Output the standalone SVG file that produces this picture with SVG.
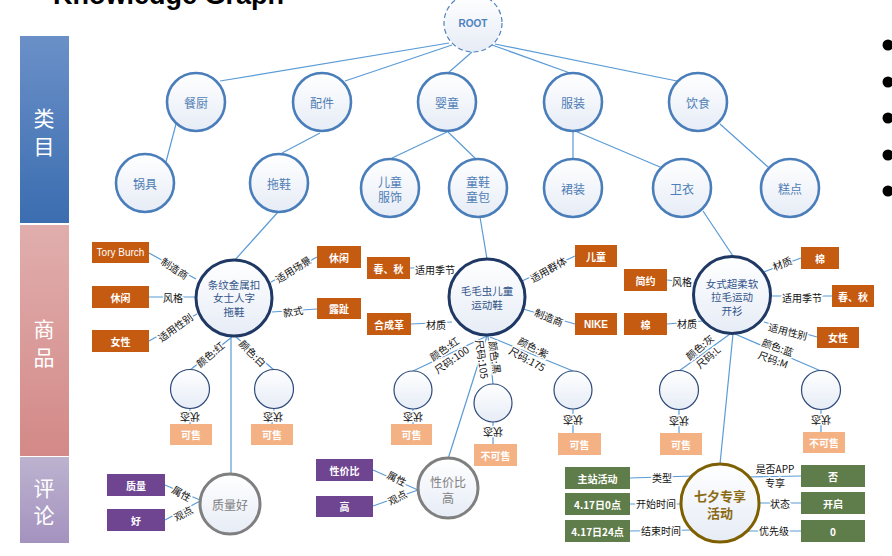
<svg xmlns="http://www.w3.org/2000/svg" width="892" height="556" viewBox="0 0 892 556">
<defs>
<linearGradient id="gN" x1="0" y1="0" x2="0" y2="1"><stop offset="0" stop-color="#ffffff"/><stop offset="1" stop-color="#e6ecf6"/></linearGradient>
<linearGradient id="gB" x1="0" y1="0" x2="0" y2="1"><stop offset="0" stop-color="#6b90c8"/><stop offset="1" stop-color="#3b6db0"/></linearGradient>
<linearGradient id="gP" x1="0" y1="0" x2="0" y2="1"><stop offset="0" stop-color="#e0aead"/><stop offset="1" stop-color="#d38987"/></linearGradient>
<linearGradient id="gV" x1="0" y1="0" x2="0" y2="1"><stop offset="0" stop-color="#bcb3cf"/><stop offset="1" stop-color="#a492bf"/></linearGradient>
</defs>
<style>
text{font-family:"Noto Sans CJK SC","Liberation Sans",sans-serif;text-anchor:middle;dominant-baseline:central}
.ln{stroke:#5b9bd5;stroke-width:1.2;fill:none}
.c1{fill:url(#gN);stroke:#4a7ebb;stroke-width:2.6}
.t1{font-size:12px;fill:#4f7db5}
.pc{fill:url(#gN);stroke:#1f3864;stroke-width:3}
.pt{font-size:10.5px;fill:#34558a}
.sc{fill:url(#gN);stroke:#2e4a7a;stroke-width:1.2}
.ob{fill:#c55a11}
.sb{fill:#f4b183}
.pb{fill:#6f4592}
.gb{fill:#5f7d4a}
.bt{font-size:10px;font-weight:bold;fill:#ffffff}
.el{font-size:10px;fill:#111111;stroke:#ffffff;stroke-width:3;paint-order:stroke;stroke-linejoin:round}
.cc{fill:url(#gN);stroke:#7f7f7f;stroke-width:3}
.ct{font-size:12px;fill:#7f7f7f}
.side{font-size:21px;fill:#ffffff}
</style>

<text x="53" y="4" style="font-family:'Liberation Sans',sans-serif;font-size:27px;font-weight:bold;text-anchor:start;dominant-baseline:alphabetic;fill:#000">Knowledge Graph</text>
<text x="38" y="2" style="font-family:'Liberation Sans',sans-serif;font-size:27px;fill:#999;dominant-baseline:alphabetic">•</text>

<g id="sidebars">
<rect x="20" y="36" width="49" height="187" fill="url(#gB)"/>
<text class="side" x="44" y="117">类</text><text class="side" x="44" y="145">目</text>
<rect x="20" y="225" width="49" height="231" fill="url(#gP)"/>
<text class="side" x="44" y="328">商</text><text class="side" x="44" y="356">品</text>
<rect x="20" y="457" width="49" height="86" fill="url(#gV)"/>
<text class="side" x="44" y="487">评</text><text class="side" x="44" y="514">论</text>
</g>

<g id="bullets" fill="#000">
<circle cx="888" cy="45" r="5.5"/><circle cx="888" cy="82" r="5.5"/><circle cx="888" cy="118" r="5.5"/><circle cx="888" cy="155" r="5.5"/><circle cx="888" cy="191" r="5.5"/>
</g>

<g id="connectors">
<path class="ln" d="M449 43L220 81M452 45L345 81M472 52L448 73M492 45L570 73M495 44L677 81"/>
<path class="ln" d="M176 124L166 162M320 133L282 153M447 132L392 158M448 132L477 160M573 131L573 159M575 131L660 167M720 124L768 167"/>
<path class="ln" d="M278 212L234 261M480 217L487 259M703 211L733 256"/>
<path class="ln" d="M149 253L196 279M149 297L195 297M149 341L197 314M317 257L271 282M317 309L272 312M232 337L190 370M236 337L274 370M190 409L190 424M274 409L272 424M231 337L231 474"/>
<path class="ln" d="M410 268L449 268M411 324L452 322M575 256L522 281M575 324L523 309M487 336L413 371M488 336L493 384M490 337L573 371M413 409L413 424M493 422L493 444M573 409L573 433M487 336L448 459"/>
<path class="ln" d="M667 280L694 283M667 324L703 321M801 258L761 273M832 296L772 296M817 337L764 322M730 334L679 371M735 334L821 371M679 409L679 433M821 409L821 432M733 334L720 464"/>
<path class="ln" d="M165 485L200 500M165 520L200 501M373 470L418 490M373 506L418 490"/>
<path class="ln" d="M630 478L693 476M630 504L681 504M630 531L693 530M801 476L748 477M801 503L759 503M801 531L748 531"/>
</g>

<g id="edge-labels">
<text class="el" transform="translate(175,268) rotate(33)">制造商</text>
<text class="el" x="173" y="297">风格</text>
<text class="el" transform="translate(175,327) rotate(-36)">适用性别</text>
<text class="el" transform="translate(293,269) rotate(-32)">适用场景</text>
<text class="el" transform="translate(293,311) rotate(-9)">款式</text>
<text class="el" transform="translate(210,354) rotate(-40)">颜色:红</text>
<text class="el" transform="translate(253,353) rotate(45)">颜色:白</text>
<text class="el" transform="translate(190,417) rotate(180)">状态</text>
<text class="el" transform="translate(273,417) rotate(180)">状态</text>

<text class="el" x="435" y="269">适用季节</text>
<text class="el" x="436" y="324">材质</text>
<text class="el" transform="translate(548,269) rotate(-30)">适用群体</text>
<text class="el" transform="translate(549,317) rotate(22)">制造商</text>
<text class="el" transform="translate(447,353) rotate(-35)"><tspan x="0" y="-6">颜色:红</tspan><tspan x="0" y="7">尺码:100</tspan></text>
<text class="el" transform="translate(490,358) rotate(82)"><tspan x="0" y="-6">颜色:黑</tspan><tspan x="0" y="7">尺码:105</tspan></text>
<text class="el" transform="translate(531,352) rotate(28)"><tspan x="0" y="-6">颜色:紫</tspan><tspan x="0" y="7">尺码:175</tspan></text>
<text class="el" transform="translate(413,417) rotate(180)">状态</text>
<text class="el" transform="translate(493,432) rotate(180)">状态</text>
<text class="el" transform="translate(573,420) rotate(180)">状态</text>

<text class="el" x="682" y="281">风格</text>
<text class="el" x="687" y="323">材质</text>
<text class="el" transform="translate(782,263) rotate(-22)">材质</text>
<text class="el" x="802" y="297">适用季节</text>
<text class="el" transform="translate(788,331) rotate(14)">适用性别</text>
<text class="el" transform="translate(703,351) rotate(-40)"><tspan x="0" y="-6">颜色:灰</tspan><tspan x="0" y="7">尺码:L</tspan></text>
<text class="el" transform="translate(776,352) rotate(20)"><tspan x="0" y="-6">颜色:蓝</tspan><tspan x="0" y="7">尺码:M</tspan></text>
<text class="el" transform="translate(679,421) rotate(180)">状态</text>
<text class="el" transform="translate(821,420) rotate(180)">状态</text>

<text class="el" transform="translate(182,493) rotate(30)">属性</text>
<text class="el" transform="translate(183,513) rotate(-27)">观点</text>
<text class="el" transform="translate(397,478) rotate(27)">属性</text>
<text class="el" transform="translate(397,497) rotate(-27)">观点</text>

<text class="el" x="662" y="477">类型</text>
<text class="el" x="656" y="503">开始时间</text>
<text class="el" x="661" y="530">结束时间</text>
<text class="el" x="775" y="475"><tspan x="775" y="468">是否APP</tspan><tspan x="775" y="482">专享</tspan></text>
<text class="el" x="780" y="503">状态</text>
<text class="el" x="774" y="530">优先级</text>
</g>

<g id="root"><circle cx="473" cy="23" r="29" fill="url(#gN)" stroke="#4f81bd" stroke-width="1.2" stroke-dasharray="5 3"/><text x="473" y="23" style="font-family:'Liberation Sans',sans-serif;font-size:10px;font-weight:bold;fill:#4f81bd">ROOT</text></g>

<g id="cat-canchu"><circle class="c1" cx="196" cy="102" r="29"/><text class="t1" x="196" y="102">餐厨</text></g>
<g id="cat-peijian"><circle class="c1" cx="322" cy="102" r="29"/><text class="t1" x="322" y="102">配件</text></g>
<g id="cat-yingtong"><circle class="c1" cx="447" cy="102" r="29"/><text class="t1" x="447" y="102">婴童</text></g>
<g id="cat-fuzhuang"><circle class="c1" cx="573" cy="102" r="29"/><text class="t1" x="573" y="102">服装</text></g>
<g id="cat-yinshi"><circle class="c1" cx="698" cy="102" r="29"/><text class="t1" x="698" y="102">饮食</text></g>

<g id="cat-guoju"><circle class="c1" cx="145" cy="183" r="29"/><text class="t1" x="145" y="183">锅具</text></g>
<g id="cat-tuoxie"><circle class="c1" cx="279" cy="183" r="29"/><text class="t1" x="279" y="183">拖鞋</text></g>
<g id="cat-ertongfushi"><circle class="c1" cx="390" cy="188" r="29"/><text class="t1" x="390" y="188"><tspan x="390" y="181">儿童</tspan><tspan x="390" y="196">服饰</tspan></text></g>
<g id="cat-tongxie"><circle class="c1" cx="478" cy="188" r="29"/><text class="t1" x="478" y="188"><tspan x="478" y="181">童鞋</tspan><tspan x="478" y="196">童包</tspan></text></g>
<g id="cat-qunzhuang"><circle class="c1" cx="573" cy="188" r="29"/><text class="t1" x="573" y="188">裙装</text></g>
<g id="cat-weiyi"><circle class="c1" cx="682" cy="188" r="29"/><text class="t1" x="682" y="188">卫衣</text></g>
<g id="cat-gaodian"><circle class="c1" cx="790" cy="188" r="29"/><text class="t1" x="790" y="188">糕点</text></g>

<g id="prod-1"><circle class="pc" cx="234" cy="298" r="38"/><text class="pt" x="234" y="297"><tspan x="234" y="284">条纹金属扣</tspan><tspan x="234" y="297">女士人字</tspan><tspan x="234" y="311">拖鞋</tspan></text></g>
<g id="prod-2"><circle class="pc" cx="487" cy="297" r="38"/><text class="pt" x="487" y="297"><tspan x="487" y="290">毛毛虫儿童</tspan><tspan x="487" y="304">运动鞋</tspan></text></g>
<g id="prod-3"><circle class="pc" cx="732" cy="295" r="38.5"/><text class="pt" x="732" y="296"><tspan x="732" y="283">女式超柔软</tspan><tspan x="732" y="296">拉毛运动</tspan><tspan x="732" y="310">开衫</tspan></text></g>

<g id="p1-attrs">
<rect class="ob" x="92" y="242" width="57" height="21"/><text class="bt" x="120.5" y="252.5" style="font-family:'Liberation Sans',sans-serif;font-weight:normal">Tory Burch</text>
<rect class="ob" x="92" y="286" width="57" height="22"/><text class="bt" x="120.5" y="297">休闲</text>
<rect class="ob" x="92" y="330" width="57" height="22"/><text class="bt" x="120.5" y="341">女性</text>
<rect class="ob" x="317" y="246" width="44" height="22"/><text class="bt" x="339" y="257">休闲</text>
<rect class="ob" x="317" y="298" width="44" height="21"/><text class="bt" x="339" y="308.5">露趾</text>
</g>
<g id="p1-sku-1"><circle class="sc" cx="190" cy="389" r="19.5"/></g>
<g id="p1-sku-2"><circle class="sc" cx="274" cy="389" r="19.5"/></g>
<g id="p1-status"><rect class="sb" x="170" y="424" width="42" height="21"/><text class="bt" x="191" y="434.5">可售</text><rect class="sb" x="251" y="424" width="42" height="21"/><text class="bt" x="272" y="434.5">可售</text></g>

<g id="p2-attrs">
<rect class="ob" x="367" y="257" width="43" height="22"/><text class="bt" x="388.5" y="268">春、秋</text>
<rect class="ob" x="367" y="313" width="44" height="22"/><text class="bt" x="389" y="324">合成革</text>
<rect class="ob" x="575" y="245" width="42" height="22"/><text class="bt" x="596" y="256">儿童</text>
<rect class="ob" x="575" y="313" width="42" height="22"/><text class="bt" x="596" y="324" style="font-family:'Liberation Sans',sans-serif">NIKE</text>
</g>
<g id="p2-sku-1"><circle class="sc" cx="413" cy="390" r="19"/></g>
<g id="p2-sku-2"><circle class="sc" cx="493" cy="403" r="19"/></g>
<g id="p2-sku-3"><circle class="sc" cx="573" cy="390" r="19"/></g>
<g id="p2-status">
<rect class="sb" x="391" y="424" width="41" height="21"/><text class="bt" x="411.5" y="434.5">可售</text>
<rect class="sb" x="474" y="444" width="43" height="22"/><text class="bt" x="495.5" y="455">不可售</text>
<rect class="sb" x="558" y="433" width="43" height="22"/><text class="bt" x="579.5" y="444">可售</text>
</g>

<g id="p3-attrs">
<rect class="ob" x="624" y="269" width="43" height="22"/><text class="bt" x="645.5" y="280">简约</text>
<rect class="ob" x="624" y="313" width="43" height="22"/><text class="bt" x="645.5" y="324">棉</text>
<rect class="ob" x="801" y="247" width="38" height="22"/><text class="bt" x="820" y="258">棉</text>
<rect class="ob" x="832" y="285" width="42" height="22"/><text class="bt" x="853" y="296">春、秋</text>
<rect class="ob" x="817" y="327" width="42" height="21"/><text class="bt" x="838" y="337.5">女性</text>
</g>
<g id="p3-sku-1"><circle class="sc" cx="679" cy="390" r="19.5"/></g>
<g id="p3-sku-2"><circle class="sc" cx="821" cy="390" r="19.5"/></g>
<g id="p3-status">
<rect class="sb" x="660" y="433" width="42" height="22"/><text class="bt" x="681" y="444">可售</text>
<rect class="sb" x="803" y="432" width="42" height="21"/><text class="bt" x="824" y="442.5">不可售</text>
</g>

<g id="review-quality"><circle class="cc" cx="230" cy="504" r="30"/><text class="ct" x="230" y="504">质量好</text></g>
<g id="review-quality-attrs">
<rect class="pb" x="107" y="474" width="58" height="22"/><text class="bt" x="136" y="485">质量</text>
<rect class="pb" x="107" y="509" width="58" height="22"/><text class="bt" x="136" y="520">好</text>
</g>
<g id="review-value"><circle class="cc" cx="448" cy="488" r="30"/><text class="ct" x="448" y="488"><tspan x="448" y="481">性价比</tspan><tspan x="448" y="497">高</tspan></text></g>
<g id="review-value-attrs">
<rect class="pb" x="316" y="459" width="57" height="22"/><text class="bt" x="344.5" y="470">性价比</text>
<rect class="pb" x="316" y="496" width="57" height="21"/><text class="bt" x="344.5" y="506.5">高</text>
</g>

<g id="event"><circle cx="720" cy="503" r="39" fill="url(#gN)" stroke="#7f6000" stroke-width="3"/><text x="720" y="503" style="font-size:13px;font-weight:bold;fill:#8a6a14"><tspan x="720" y="495">七夕专享</tspan><tspan x="720" y="512">活动</tspan></text></g>
<g id="event-attrs">
<rect class="gb" x="565" y="467" width="65" height="22"/><text class="bt" x="597.5" y="478">主站活动</text>
<rect class="gb" x="565" y="493" width="65" height="22"/><text class="bt" x="597.5" y="504">4.17日0点</text>
<rect class="gb" x="565" y="520" width="65" height="22"/><text class="bt" x="597.5" y="531">4.17日24点</text>
<rect class="gb" x="801" y="465" width="64" height="22"/><text class="bt" x="833" y="476">否</text>
<rect class="gb" x="801" y="492" width="64" height="22"/><text class="bt" x="833" y="503">开启</text>
<rect class="gb" x="801" y="520" width="64" height="22"/><text class="bt" x="833" y="531">0</text>
</g>
</svg>
